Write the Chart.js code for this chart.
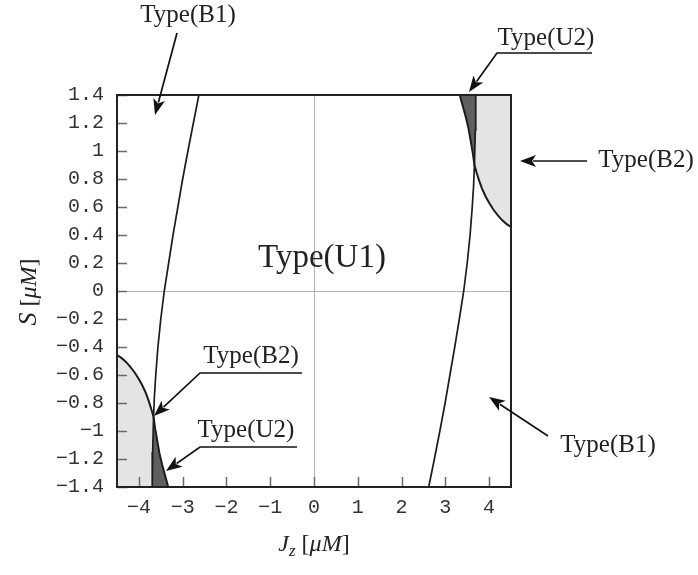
<!DOCTYPE html>
<html>
<head>
<meta charset="utf-8">
<script src="https://cdn.jsdelivr.net/npm/chart.js@4.4.0/dist/chart.umd.min.js"></script>
<style>
  html, body { margin: 0; padding: 0; background: #fff; }
</style>
</head>
<body>
<canvas id="phaseChart" width="698" height="575"></canvas>
<script>
// Phase diagram: S vs Jz, regions Type(U1/U2/B1/B2)

const X_RANGE = [-4.5, 4.5];
const Y_RANGE = [-1.4, 1.4];
const xTickVals = [-4, -3, -2, -1, 0, 1, 2, 3, 4];
const yTickVals = [-1.4, -1.2, -1, -0.8, -0.6, -0.4, -0.2, 0, 0.2, 0.4, 0.6, 0.8, 1, 1.2, 1.4];

// left U1/B1 boundary (top -> bottom)
const leftB1X = [-2.63, -2.755, -2.88, -3.0, -3.11, -3.22, -3.32, -3.42, -3.50, -3.565, -3.615, -3.645, -3.665, -3.685, -3.695];
const leftB1Y = [1.4, 1.2, 1.0, 0.8, 0.6, 0.4, 0.2, 0.0, -0.2, -0.4, -0.6, -0.75, -0.9, -1.15, -1.4];
// right U1/B1 boundary (bottom -> top)
const rightB1X = [2.62, 2.75, 2.875, 2.995, 3.105, 3.215, 3.32, 3.42, 3.50, 3.565, 3.615, 3.645, 3.665, 3.685, 3.695];
const rightB1Y = [-1.4, -1.2, -1.0, -0.8, -0.6, -0.4, -0.2, 0.0, 0.2, 0.4, 0.6, 0.75, 0.9, 1.15, 1.4];

// B2 boundary arcs, from the frame to the crossing point
const leftB2X = [-4.5, -4.40, -4.30, -4.20, -4.10, -4.00, -3.92, -3.84, -3.77, -3.71, -3.665];
const leftB2Y = [-0.457, -0.478, -0.505, -0.54, -0.58, -0.63, -0.675, -0.73, -0.79, -0.85, -0.90];
const rightB2X = [4.5, 4.40, 4.30, 4.20, 4.10, 4.00, 3.92, 3.84, 3.77, 3.71, 3.665];
const rightB2Y = [0.457, 0.478, 0.505, 0.54, 0.58, 0.63, 0.675, 0.73, 0.79, 0.85, 0.90];

// U2 boundary, from the crossing point to the frame
const leftU2X = [-3.665, -3.63, -3.58, -3.53, -3.47, -3.40, -3.33];
const leftU2Y = [-0.90, -0.98, -1.07, -1.16, -1.24, -1.32, -1.40];
const rightU2X = [3.665, 3.63, 3.58, 3.53, 3.47, 3.40, 3.33];
const rightU2Y = [0.90, 0.98, 1.07, 1.16, 1.24, 1.32, 1.40];

const COLORS = {
    line: '#1c1c1c',
    light: '#e4e4e4',
    dark: '#5f5f5f',
    zero: '#b4b4b4',
    tick: '#6a6a6a',
    text: '#222'
};

function pts(xs, ys) {
    return xs.map((x, i) => ({ x: x, y: ys[i] }));
}

// polygons for the shaded regions
const leftCross = leftU2Y[0];
const rightCross = rightU2Y[0];
const leftB1Low = pts(leftB1X, leftB1Y).filter(p => p.y < leftCross);
const rightB1High = pts(rightB1X, rightB1Y).filter(p => p.y > rightCross);

const leftLight = [...pts(leftB2X, leftB2Y), ...leftB1Low, { x: X_RANGE[0], y: Y_RANGE[0] }];
const leftDark = [...pts(leftU2X, leftU2Y), ...leftB1Low.slice().reverse()];
const rightLight = [...pts(rightB2X, rightB2Y), ...rightB1High, { x: X_RANGE[1], y: Y_RANGE[1] }];
const rightDark = [...pts(rightU2X, rightU2Y), ...rightB1High.slice().reverse()];

function lineSet(data, width) {
    return {
        data: data, showLine: true, fill: false, tension: 0,
        borderColor: COLORS.line, borderWidth: width, pointRadius: 0
    };
}
function areaSet(data, color) {
    return {
        data: data, showLine: true, fill: 'shape', tension: 0,
        backgroundColor: color, borderColor: 'rgba(0,0,0,0)', borderWidth: 0, pointRadius: 0
    };
}

function fmtTick(v) {
    const s = (Math.round(v * 10) / 10).toString();
    return s.replace('-', '\u2212');
}

// annotation labels and arrows (pixel positions)
const notes = [
    { text: 'Type(B1)', x: 188, y: 22, size: 25, path: [[177, 33], [155, 115]] },
    { text: 'Type(U2)', x: 546, y: 45, size: 25, path: [[592, 53], [497, 53], [469, 92]] },
    { text: 'Type(B2)', x: 646, y: 167, size: 25, path: [[587, 161], [520, 161]] },
    { text: 'Type(U1)', x: 322, y: 267, size: 33, path: null },
    { text: 'Type(B2)', x: 251, y: 363, size: 25, path: [[302, 373], [200, 373], [154, 416]] },
    { text: 'Type(U2)', x: 246, y: 437, size: 25, path: [[297, 447], [200, 447], [166, 471]] },
    { text: 'Type(B1)', x: 608, y: 452, size: 25, path: [[548, 436], [489, 397]] }
];

function drawArrow(ctx, path) {
    const n = path.length;
    const [tx, ty] = path[n - 1];
    const [px, py] = path[n - 2];
    const ang = Math.atan2(ty - py, tx - px);
    const headLen = 16, headW = 6;
    const bx = tx - headLen * Math.cos(ang), by = ty - headLen * Math.sin(ang);
    ctx.beginPath();
    ctx.moveTo(path[0][0], path[0][1]);
    for (let i = 1; i < n - 1; i++) ctx.lineTo(path[i][0], path[i][1]);
    ctx.lineTo(bx + 3 * Math.cos(ang), by + 3 * Math.sin(ang));
    ctx.stroke();
    ctx.beginPath();
    ctx.moveTo(tx, ty);
    ctx.lineTo(bx - headW * Math.sin(ang), by + headW * Math.cos(ang));
    ctx.lineTo(bx + 4 * Math.cos(ang), by + 4 * Math.sin(ang));
    ctx.lineTo(bx + headW * Math.sin(ang), by - headW * Math.cos(ang));
    ctx.closePath();
    ctx.fill();
}

function drawRich(ctx, parts, cx, baseY) {
    let total = 0;
    parts.forEach(p => { ctx.font = p.font; total += ctx.measureText(p.t).width; });
    let x = cx - total / 2;
    ctx.textAlign = 'left';
    ctx.textBaseline = 'alphabetic';
    parts.forEach(p => {
        ctx.font = p.font;
        ctx.fillText(p.t, x, baseY + (p.dy || 0));
        x += ctx.measureText(p.t).width;
    });
}

const SERIF = '"Liberation Serif", "Times New Roman", serif';

const decorPlugin = {
    id: 'decor',
    afterDatasetsDraw(chart) {
        const ctx = chart.ctx;
        const a = chart.chartArea;
        const xs = chart.scales.x, ys = chart.scales.y;
        ctx.save();
        // inward ticks
        ctx.strokeStyle = COLORS.tick;
        ctx.lineWidth = 1.5;
        ctx.beginPath();
        yTickVals.forEach(v => {
            const py = Math.round(ys.getPixelForValue(v)) + 0.5;
            ctx.moveTo(a.left, py);
            ctx.lineTo(a.left + 10, py);
        });
        xTickVals.forEach(v => {
            const px = Math.round(xs.getPixelForValue(v)) + 0.5;
            ctx.moveTo(px, a.bottom);
            ctx.lineTo(px, a.bottom - 10);
        });
        ctx.stroke();
        // frame
        ctx.strokeStyle = '#222';
        ctx.lineWidth = 2;
        ctx.strokeRect(a.left, a.top, a.right - a.left, a.bottom - a.top);
        ctx.restore();
    },
    afterDraw(chart) {
        const ctx = chart.ctx;
        ctx.save();
        ctx.fillStyle = COLORS.text;
        ctx.strokeStyle = '#111';
        ctx.lineWidth = 1.7;
        notes.forEach(n => {
            ctx.font = n.size + 'px ' + SERIF;
            ctx.textAlign = 'center';
            ctx.textBaseline = 'alphabetic';
            ctx.fillText(n.text, n.x, n.y);
            if (n.path) {
                ctx.fillStyle = '#111';
                drawArrow(ctx, n.path);
                ctx.fillStyle = COLORS.text;
            }
        });
        // axis titles
        const it = 'italic 24px ' + SERIF, rm = '24px ' + SERIF;
        drawRich(ctx, [
            { t: 'J', font: it },
            { t: 'z', font: 'italic 17px ' + SERIF, dy: 5 },
            { t: ' [', font: rm },
            { t: '\u03bcM', font: it },
            { t: ']', font: rm }
        ], 314, 551);
        ctx.translate(36, 292);
        ctx.rotate(-Math.PI / 2);
        drawRich(ctx, [
            { t: 'S', font: 'italic 26px ' + SERIF },
            { t: ' [', font: rm },
            { t: '\u03bcM', font: it },
            { t: ']', font: rm }
        ], 0, 0);
        ctx.restore();
    }
};

const tickFont = { family: '"Liberation Mono", "Courier New", monospace', size: 20 };

new Chart(document.getElementById('phaseChart'), {
    type: 'scatter',
    data: {
        datasets: [
            lineSet(pts(leftB1X, leftB1Y), 1.7),
            lineSet(pts(rightB1X, rightB1Y), 1.7),
            lineSet([...pts(leftB2X, leftB2Y), ...pts(leftU2X, leftU2Y).slice(1)], 2),
            lineSet([...pts(rightB2X, rightB2Y), ...pts(rightU2X, rightU2Y).slice(1)], 2),
            areaSet(leftDark, COLORS.dark),
            areaSet(rightDark, COLORS.dark),
            areaSet(leftLight, COLORS.light),
            areaSet(rightLight, COLORS.light)
        ]
    },
    options: {
        responsive: false,
        animation: false,
        devicePixelRatio: 1,
        layout: { padding: { left: 0, top: 95, right: 187, bottom: 0 } },
        plugins: { legend: { display: false }, tooltip: { enabled: false } },
        scales: {
            x: {
                type: 'linear',
                min: X_RANGE[0], max: X_RANGE[1],
                afterBuildTicks: s => { s.ticks = xTickVals.map(v => ({ value: v })); },
                afterFit: s => { s.height = 88; },
                border: { display: false },
                grid: {
                    drawTicks: false,
                    lineWidth: 1,
                    color: c => (c.tick && c.tick.value === 0) ? COLORS.zero : 'rgba(0,0,0,0)'
                },
                ticks: { font: tickFont, color: '#333', padding: 9, maxRotation: 0, callback: fmtTick }
            },
            y: {
                type: 'linear',
                min: Y_RANGE[0], max: Y_RANGE[1],
                afterBuildTicks: s => { s.ticks = yTickVals.map(v => ({ value: v })); },
                afterFit: s => { s.width = 117; },
                border: { display: false },
                grid: {
                    drawTicks: false,
                    lineWidth: 1,
                    color: c => (c.tick && Math.abs(c.tick.value) < 1e-9) ? COLORS.zero : 'rgba(0,0,0,0)'
                },
                ticks: { font: tickFont, color: '#333', padding: 13, callback: fmtTick }
            }
        }
    },
    plugins: [decorPlugin]
});
</script>
</body>
</html>
